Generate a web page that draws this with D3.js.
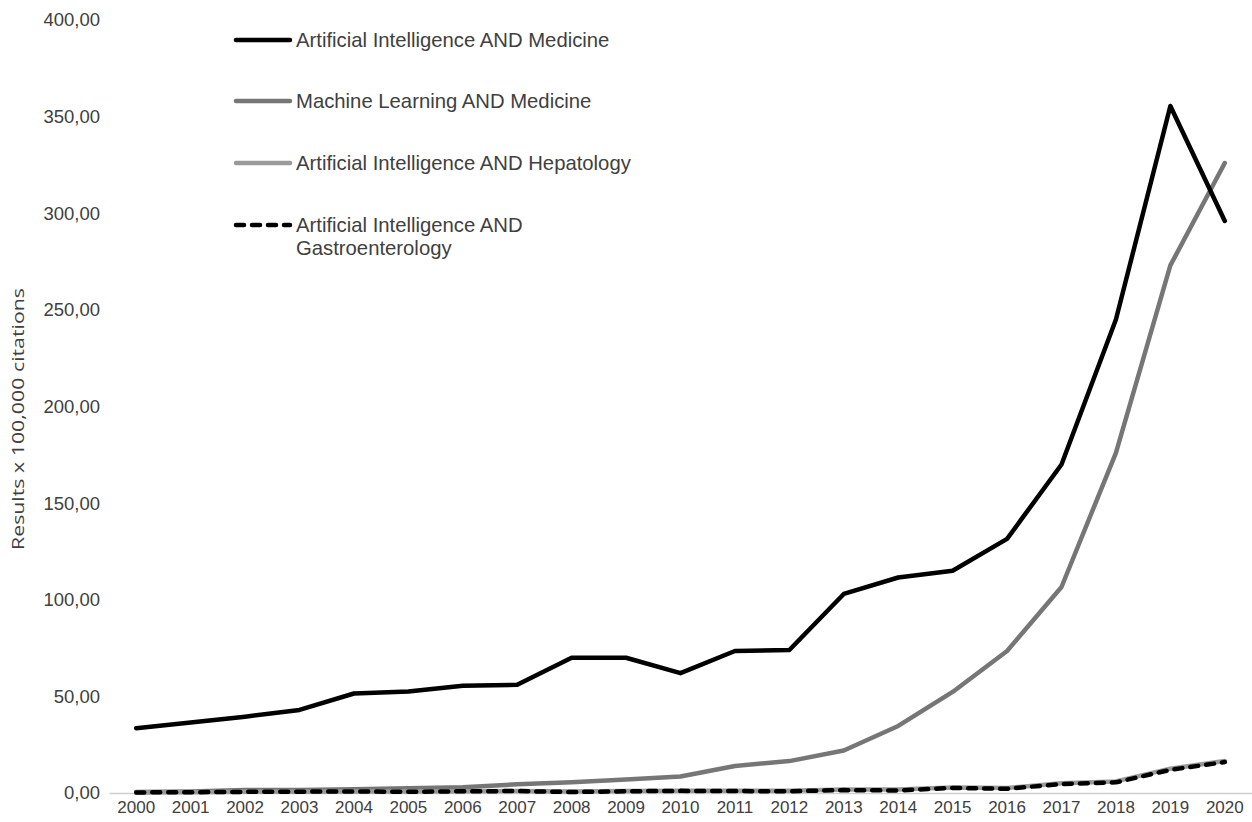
<!DOCTYPE html>
<html><head><meta charset="utf-8">
<script src="https://cdn.jsdelivr.net/npm/d3@7"></script>
<style>body{margin:0;background:#fff}svg{display:block}</style>
</head><body>
<script>
const years = ["2000","2001","2002","2003","2004","2005","2006","2007","2008","2009","2010","2011","2012","2013","2014","2015","2016","2017","2018","2019","2020"];
const aiMedicine = [33.5,36.5,39.5,43,51.5,52.5,55.5,56,70,70,62,73.5,74,103,111.5,115,131.5,170,245,355.5,296];
const mlMedicine = [0.5,0.8,1.5,1.5,2,2.5,3,4.5,5.5,7,8.5,14,16.5,22,34.7,52.3,73.5,106.6,176,273,326];
const aiHepatology = [0.3,0.4,0.6,0.7,0.8,0.8,0.9,1,0.8,1,1.2,1.2,1.2,1.8,1.8,2.8,2.6,5,6,12.6,16.6];
const aiGastro = [0.3,0.4,0.6,0.7,0.8,0.6,0.9,1,0.5,0.9,1.1,1,0.9,1.5,1.3,2.6,2.2,4.6,5.5,12,16];
const yTicks = [0,50,100,150,200,250,300,350,400];
const seriesNames = ["Artificial Intelligence AND Medicine","Machine Learning AND Medicine","Artificial Intelligence AND Hepatology","Artificial Intelligence AND Gastroenterology"];

const W=1252,H=822;
const svg=d3.select("body").append("svg").attr("width",W).attr("height",H);
const x=d3.scaleBand().domain(years).range([109,1252]);
const xc=d=>x(d)+x.bandwidth()/2;
const y=d3.scaleLinear().domain([0,400]).range([793,20]);

const txt="#404040";
const ya=svg.append("g").attr("transform","translate(100,0)").call(d3.axisLeft(y).tickValues(yTicks).tickSize(0).tickPadding(0).tickFormat(d=>d3.format(".2f")(d).replace(".",",")));
ya.select(".domain").remove();
ya.selectAll("text").attr("font-family","Liberation Sans, Arial, sans-serif").attr("font-size","18.5px").attr("fill",txt);

const xa=svg.append("g").attr("transform","translate(0,793)").call(d3.axisBottom(x).tickSize(0).tickPadding(8));
xa.select(".domain").attr("stroke","#d0d0d0").attr("stroke-width",1.5);
xa.selectAll("text").attr("font-family","Liberation Sans, Arial, sans-serif").attr("font-size","17px").attr("fill",txt);

svg.append("text").attr("transform","translate(24,419) rotate(-90)").attr("text-anchor","middle")
 .attr("font-family","Open Sans, sans-serif").attr("font-size","16.5px").attr("fill",txt)
 .attr("textLength",262).attr("lengthAdjust","spacingAndGlyphs")
 .text("Results x 100,000 citations");

const styles=[
 {data:aiMedicine,color:"#000",dash:null},
 {data:mlMedicine,color:"#767676",dash:null},
 {data:aiHepatology,color:"#9a9a9a",dash:null},
 {data:aiGastro,color:"#000",dash:"8,8"}
];
const line=d3.line().x((d,i)=>xc(years[i])).y(d=>y(d));
[1,0,2,3].forEach(k=>{
 const s=styles[k];
 svg.append("path").datum(s.data).attr("d",line).attr("fill","none").attr("stroke",s.color)
  .attr("stroke-width",4.5).attr("stroke-linejoin","round").attr("stroke-linecap","round")
  .attr("stroke-dasharray",s.dash);
});

const ly=[40,101,163,225];
styles.forEach((s,i)=>{
 svg.append("line").attr("x1",236).attr("x2",290).attr("y1",ly[i]).attr("y2",ly[i])
  .attr("stroke",s.color).attr("stroke-width",4.5).attr("stroke-linecap","round").attr("stroke-dasharray",s.dash);
});
const lt=svg.append("g").attr("font-family","Liberation Sans, Arial, sans-serif").attr("font-size","20.3px").attr("fill",txt);
[seriesNames[0],seriesNames[1],seriesNames[2]].forEach((t,i)=>{
 lt.append("text").attr("x",296).attr("y",ly[i]).attr("dy","0.35em").text(t);
});
const words=seriesNames[3].split(" ");
lt.append("text").attr("x",296).attr("y",ly[3]).attr("dy","0.35em").text(words.slice(0,3).join(" "));
lt.append("text").attr("x",296).attr("y",ly[3]+23).attr("dy","0.35em").text(words[3]);
</script>
</body></html>
